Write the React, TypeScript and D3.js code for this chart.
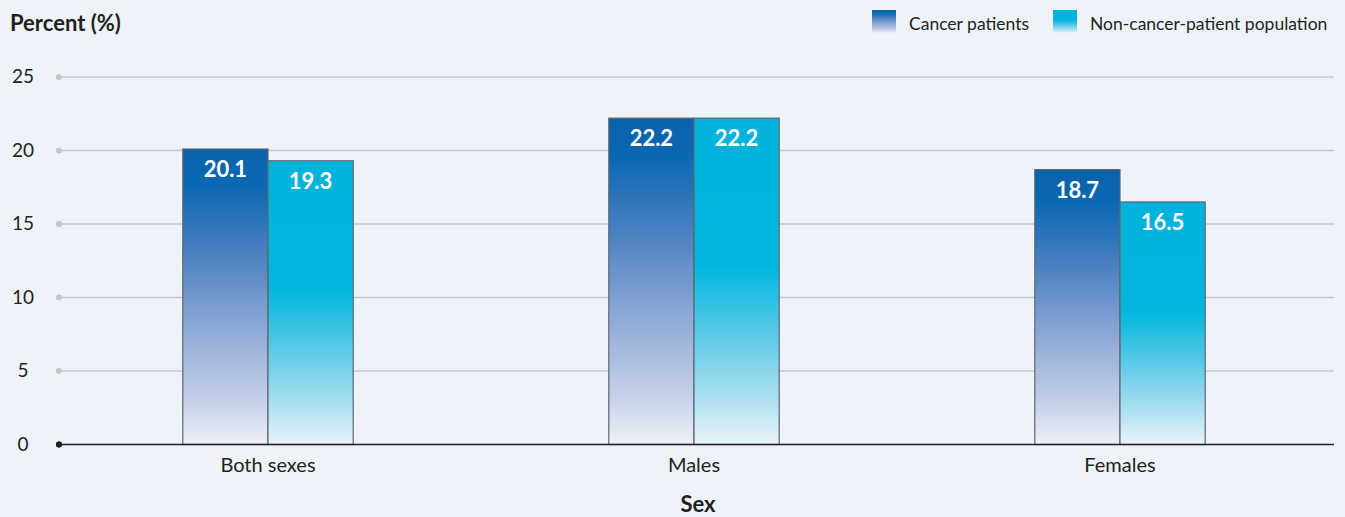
import React from 'react';
import * as d3 from 'd3';

const categories = ['Both sexes', 'Males', 'Females'];
const seriesNames = ['Cancer patients', 'Non-cancer-patient population'];
const cancerValues = [20.1, 22.2, 18.7];
const nonCancerValues = [19.3, 22.2, 16.5];
const yTicks = [0, 5, 10, 15, 20, 25];

const width = 1345;
const height = 517;
const font = 'Lato, "Open Sans", sans-serif';

const App = () => {
    const x = d3.scaleBand().domain(categories).range([55, 1333]).paddingInner(0.6).paddingOuter(0.3);
    const y = d3.scaleLinear().domain([0, 25]).range([444.5, 77]);
    const inner = d3.scaleBand().domain(seriesNames).range([0, x.bandwidth()]);

    const series = [
        { name: seriesNames[0], values: cancerValues, fill: 'url(#gradCancer)' },
        { name: seriesNames[1], values: nonCancerValues, fill: 'url(#gradNon)' }
    ];

    return (
        <div style={{ position: 'fixed', left: 0, top: 0 }}>
            <svg width={width} height={height} style={{ display: 'block', background: '#eef3fa' }}>
                <defs>
                    <linearGradient id="gradCancer" x1="0" y1="0" x2="0" y2="1">
                        <stop offset="0" stopColor="#0a61ab" />
                        <stop offset="0.12" stopColor="#0b68b3" />
                        <stop offset="0.35" stopColor="#4a80c0" />
                        <stop offset="0.6" stopColor="#8ca8d6" />
                        <stop offset="0.85" stopColor="#c5d0e8" />
                        <stop offset="1" stopColor="#eef1f8" />
                    </linearGradient>
                    <linearGradient id="gradNon" x1="0" y1="0" x2="0" y2="1">
                        <stop offset="0" stopColor="#00b2dc" />
                        <stop offset="0.45" stopColor="#00b6de" />
                        <stop offset="0.65" stopColor="#56c8e7" />
                        <stop offset="0.85" stopColor="#a9def1" />
                        <stop offset="1" stopColor="#eaf4fa" />
                    </linearGradient>
                </defs>

                <text x={10} y={31} fontFamily={font} fontWeight="bold" fontSize={22} fill="#231f20">Percent (%)</text>

                {/* legend */}
                {series.map((s, i) => {
                    const lx = i === 0 ? 872 : 1053;
                    return (
                        <g key={s.name}>
                            <rect x={lx} y={10} width={24} height={23} fill={s.fill} />
                            <text x={lx + 37} y={30} fontFamily={font} fontSize={17.5} fill="#231f20">{s.name}</text>
                        </g>
                    );
                })}

                {/* grid + y ticks */}
                {yTicks.map(t => (
                    <g key={t}>
                        {t > 0 && <line x1={59} x2={1334} y1={y(t)} y2={y(t)} stroke="#c4c6c9" strokeWidth={1.3} />}
                        <circle cx={59} cy={y(t)} r={3} fill={t === 0 ? '#231f20' : '#c4c6c9'} />
                        <text x={23} y={y(t) + 6} textAnchor="middle" fontFamily={font} fontSize={19} fill="#231f20">{t}</text>
                    </g>
                ))}

                {/* bars */}
                {categories.map((c, ci) => (
                    <g key={c} transform={`translate(${x(c)},0)`}>
                        {series.map(s => {
                            const v = s.values[ci];
                            const bx = inner(s.name)!;
                            return (
                                <g key={s.name}>
                                    <rect x={bx} y={y(v)} width={inner.bandwidth()} height={y(0) - y(v)}
                                        fill={s.fill} stroke="#5b6770" strokeWidth={1.2} />
                                    <text x={bx + inner.bandwidth() / 2} y={y(v) + 28} textAnchor="middle"
                                        fontFamily={font} fontWeight="bold" fontSize={22} fill="#ffffff">{v.toFixed(1)}</text>
                                </g>
                            );
                        })}
                        <text x={x.bandwidth() / 2} y={472} textAnchor="middle" fontFamily={font} fontSize={20} fill="#231f20">{c}</text>
                    </g>
                ))}

                {/* x axis */}
                <line x1={59} x2={1334} y1={y(0)} y2={y(0)} stroke="#231f20" strokeWidth={1.3} />
                <circle cx={59} cy={y(0)} r={3} fill="#231f20" />

                <text x={698} y={512} textAnchor="middle" fontFamily={font} fontWeight="bold" fontSize={22} fill="#231f20">Sex</text>
            </svg>
        </div>
    );
};

export default App;
